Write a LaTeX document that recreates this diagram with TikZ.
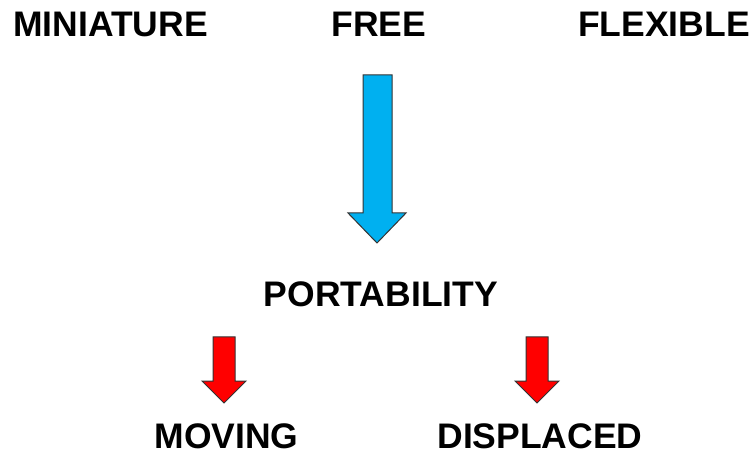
\documentclass[tikz,border=0pt]{standalone}
\usepackage{fontspec}
\setmainfont{Liberation Sans}
\begin{document}
\begin{tikzpicture}[x=1bp,y=-1bp,
  word/.style={font=\fontsize{35.5bp}{40bp}\selectfont\bfseries, inner sep=0pt, anchor=base},
  blockarrow/.style={draw=black!80, line width=1bp, line join=miter}]
\useasboundingbox (0,0) rectangle (753,454);
% labels
\node[word, anchor=base west] (mini) at (13,37) {MINIATURE};
\node[word] (free) at (379,37) {FREE};
\node[word, anchor=base east] (flex) at (750,37) {FLEXIBLE};
\node[word] (port) at (381,307) {PORTABILITY};
\node[word] (mov) at (226.5,448) {MOVING};
\node[word] (disp) at (540,448) {DISPLACED};
% big blue block arrow below FREE
\fill[fill={rgb,255:red,0;green,176;blue,240}] [blockarrow]
  (363,75) -- (392,75) -- (392,213) -- (406,213) -- (377,243) -- (348,213) -- (363,213) -- cycle;
% red block arrows below PORTABILITY
\fill[fill=red] [blockarrow]
  (213,337) -- (235,337) -- (235,381) -- (246,381) -- (224,403) -- (202,381) -- (213,381) -- cycle;
\fill[fill=red] [blockarrow]
  (526,337) -- (548,337) -- (548,381) -- (559,381) -- (537,403) -- (515,381) -- (526,381) -- cycle;
\end{tikzpicture}
\end{document}
